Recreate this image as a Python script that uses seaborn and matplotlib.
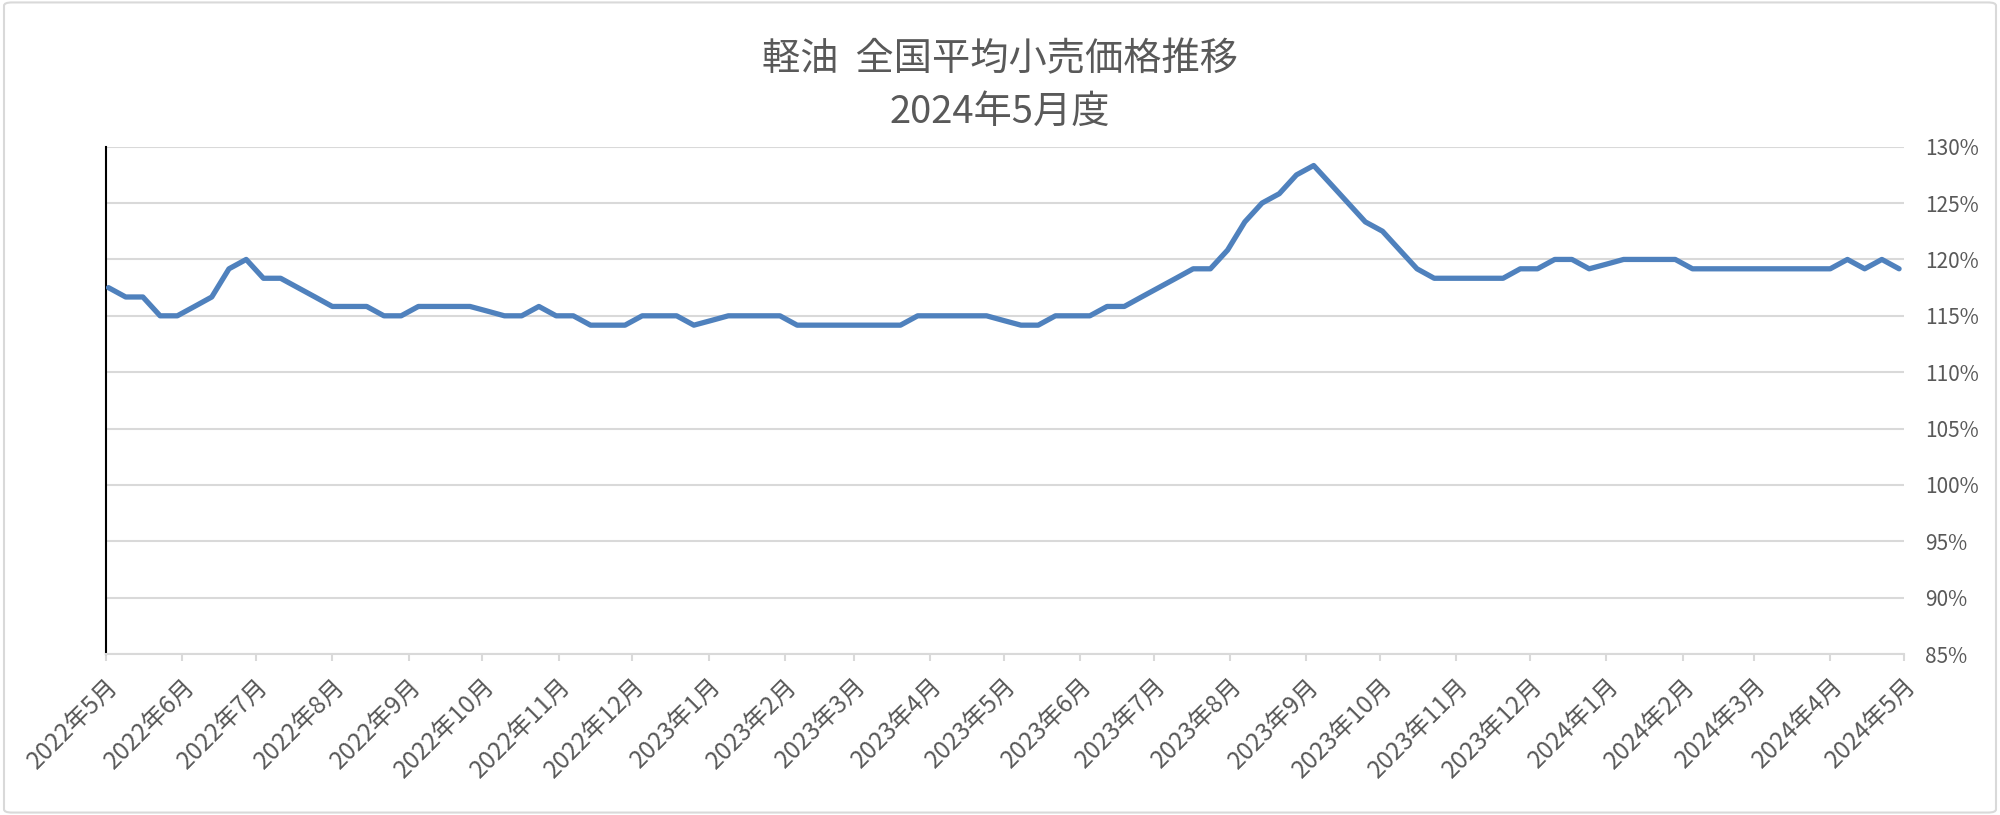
import pandas as pd
import numpy as np
import seaborn as sns
import matplotlib.pyplot as plt
import matplotlib.ticker as plticker
from matplotlib.patches import FancyBboxPatch

# weekly survey dates (Mondays) and price index in %
dates = pd.date_range("2022-05-02", periods=105, freq="7D")
values = [
    117.5, 116.67, 116.67, 115.0, 115.0, 115.83, 116.67, 119.17, 120.0, 118.33,
    118.33, 117.5, 116.67, 115.83, 115.83, 115.83, 115.0, 115.0, 115.83, 115.83,
    115.83, 115.83, 115.42, 115.0, 115.0, 115.83, 115.0, 115.0, 114.17, 114.17,
    114.17, 115.0, 115.0, 115.0, 114.17, 114.58, 115.0, 115.0, 115.0, 115.0,
    114.17, 114.17, 114.17, 114.17, 114.17, 114.17, 114.17, 115.0, 115.0, 115.0,
    115.0, 115.0, 114.58, 114.17, 114.17, 115.0, 115.0, 115.0, 115.83, 115.83,
    116.67, 117.5, 118.33, 119.17, 119.17, 120.83, 123.33, 125.0, 125.83, 127.5,
    128.33, 126.67, 125.0, 123.33, 122.5, 120.83, 119.17, 118.33, 118.33, 118.33,
    118.33, 118.33, 119.17, 119.17, 120.0, 120.0, 119.17, 119.58, 120.0, 120.0,
    120.0, 120.0, 119.17, 119.17, 119.17, 119.17, 119.17, 119.17, 119.17, 119.17,
    119.17, 120.0, 119.17, 120.0, 119.17,
]
month_starts = pd.date_range("2022-05-01", "2024-05-01", freq="MS")
month_labels = [f"{d.year}年{d.month}月" for d in month_starts]
y_ticks = [85, 90, 95, 100, 105, 110, 115, 120, 125, 130]

title_1 = "軽油  全国平均小売価格推移"
title_2 = "2024年5月度"

GREY = "#595959"
GRID = "#d9d9d9"


def plot_data(filename):
    sns.set_theme(style="white")
    plt.rcParams["font.family"] = ["Noto Sans CJK JP", "DejaVu Sans"]
    df = pd.DataFrame({"date": dates, "value": values})

    fig = plt.figure(figsize=(20, 8.15), dpi=100)
    ax = fig.add_axes([0.053, 0.1975, 0.899, 0.6225])

    sns.lineplot(data=df, x="date", y="value", ax=ax, color="#4f81bd",
                 linewidth=3.8, zorder=3)

    ax.set_xlim(month_starts[0], month_starts[-1])
    ax.set_ylim(85, 130)
    ax.set_yticks(y_ticks)
    ax.yaxis.set_major_formatter(plticker.PercentFormatter(xmax=100, decimals=0))
    ax.yaxis.tick_right()
    ax.yaxis.grid(True, color=GRID, linewidth=1.5, zorder=0)
    ax.tick_params(axis="y", length=0, pad=15, labelsize=15, labelcolor=GREY)

    ax.set_xticks(month_starts)
    ax.set_xticklabels(month_labels, rotation=45, ha="right", va="top",
                       rotation_mode="anchor")
    ax.tick_params(axis="x", bottom=True, length=5, width=1.5, color=GRID,
                   pad=9, labelsize=17.5, labelcolor=GREY)

    ax.set_xlabel("")
    ax.set_ylabel("")
    for side in ["top", "right"]:
        ax.spines[side].set_visible(False)
    ax.spines["left"].set_color("black")
    ax.spines["left"].set_linewidth(1.5)
    ax.spines["bottom"].set_color(GRID)
    ax.spines["bottom"].set_linewidth(1.5)

    fig.text(0.5, 1 - 60 / 815, title_1, ha="center", va="center",
             fontsize=27.5, color=GREY)
    fig.text(0.5, 1 - 112 / 815, title_2, ha="center", va="center",
             fontsize=27.5, color=GREY)

    # light frame round the whole chart
    fig.patches.append(FancyBboxPatch((0.002, 0.003), 0.996, 0.994,
                                      boxstyle="round,pad=0,rounding_size=0.004",
                                      transform=fig.transFigure, fill=False,
                                      ec=GRID, lw=1.5))

    plt.savefig(filename, dpi=100)
    print("Figure saved.")


plot_data("out.png")
